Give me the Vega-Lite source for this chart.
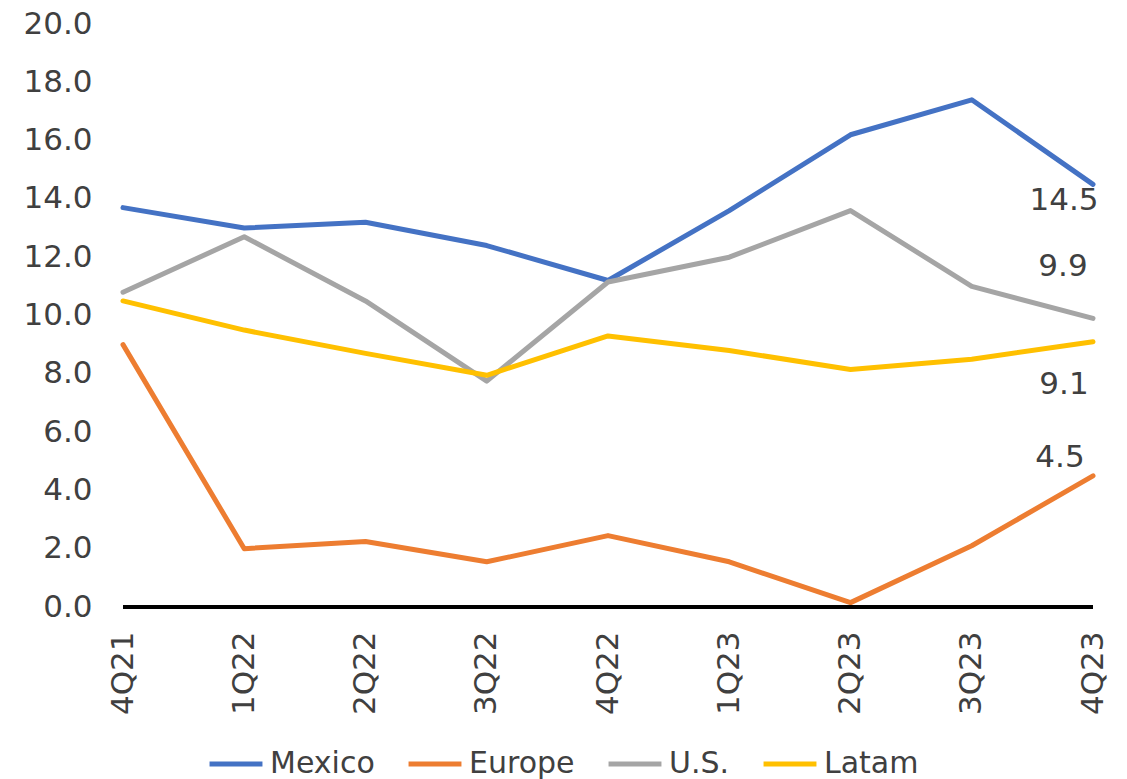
{
  "$schema": "https://vega.github.io/schema/vega-lite/v6.json",
  "width": 970,
  "height": 583,
  "autosize": "none",
  "padding": {"left": 123, "top": 24, "right": 34, "bottom": 172},
  "background": "white",
  "config": {
    "view": {"stroke": null},
    "font": "DejaVu Sans",
    "axis": {"labelFont": "DejaVu Sans", "labelColor": "#404040", "labelFontSize": 31, "grid": false, "domain": false, "ticks": false, "title": null},
    "legend": {"labelFont": "DejaVu Sans", "labelColor": "#404040"}
  },
  "data": {
    "values": [
      {"quarter": "4Q21", "series": "Mexico", "value": 13.7},
      {"quarter": "1Q22", "series": "Mexico", "value": 13.0},
      {"quarter": "2Q22", "series": "Mexico", "value": 13.2},
      {"quarter": "3Q22", "series": "Mexico", "value": 12.4},
      {"quarter": "4Q22", "series": "Mexico", "value": 11.2},
      {"quarter": "1Q23", "series": "Mexico", "value": 13.6},
      {"quarter": "2Q23", "series": "Mexico", "value": 16.2},
      {"quarter": "3Q23", "series": "Mexico", "value": 17.4},
      {"quarter": "4Q23", "series": "Mexico", "value": 14.5},
      {"quarter": "4Q21", "series": "Europe", "value": 9.0},
      {"quarter": "1Q22", "series": "Europe", "value": 2.0},
      {"quarter": "2Q22", "series": "Europe", "value": 2.25},
      {"quarter": "3Q22", "series": "Europe", "value": 1.55},
      {"quarter": "4Q22", "series": "Europe", "value": 2.45},
      {"quarter": "1Q23", "series": "Europe", "value": 1.55},
      {"quarter": "2Q23", "series": "Europe", "value": 0.15},
      {"quarter": "3Q23", "series": "Europe", "value": 2.1},
      {"quarter": "4Q23", "series": "Europe", "value": 4.5},
      {"quarter": "4Q21", "series": "U.S.", "value": 10.8},
      {"quarter": "1Q22", "series": "U.S.", "value": 12.7},
      {"quarter": "2Q22", "series": "U.S.", "value": 10.5},
      {"quarter": "3Q22", "series": "U.S.", "value": 7.75},
      {"quarter": "4Q22", "series": "U.S.", "value": 11.15},
      {"quarter": "1Q23", "series": "U.S.", "value": 12.0},
      {"quarter": "2Q23", "series": "U.S.", "value": 13.6},
      {"quarter": "3Q23", "series": "U.S.", "value": 11.0},
      {"quarter": "4Q23", "series": "U.S.", "value": 9.9},
      {"quarter": "4Q21", "series": "Latam", "value": 10.5},
      {"quarter": "1Q22", "series": "Latam", "value": 9.5},
      {"quarter": "2Q22", "series": "Latam", "value": 8.7},
      {"quarter": "3Q22", "series": "Latam", "value": 7.95},
      {"quarter": "4Q22", "series": "Latam", "value": 9.3},
      {"quarter": "1Q23", "series": "Latam", "value": 8.8},
      {"quarter": "2Q23", "series": "Latam", "value": 8.15},
      {"quarter": "3Q23", "series": "Latam", "value": 8.5},
      {"quarter": "4Q23", "series": "Latam", "value": 9.1}
    ]
  },
  "encoding": {
    "x": {
      "field": "quarter", "type": "ordinal",
      "sort": ["4Q21", "1Q22", "2Q22", "3Q22", "4Q22", "1Q23", "2Q23", "3Q23", "4Q23"],
      "scale": {"type": "point", "padding": 0},
      "axis": {"labelAngle": -90, "labelPadding": 24, "labelFontSize": 31}
    },
    "y": {
      "field": "value", "type": "quantitative",
      "scale": {"domain": [0, 20], "nice": false},
      "axis": {"values": [0, 2, 4, 6, 8, 10, 12, 14, 16, 18, 20], "format": ".1f", "labelPadding": 31}
    }
  },
  "layer": [
    {
      "mark": {"type": "line", "strokeWidth": 5, "strokeCap": "round", "strokeJoin": "round"},
      "encoding": {
        "color": {
          "field": "series", "type": "nominal",
          "scale": {"domain": ["Mexico", "Europe", "U.S.", "Latam"], "range": ["#4472C4", "#ED7D31", "#A5A5A5", "#FFC000"]},
          "legend": {
            "title": null, "orient": "none", "direction": "horizontal", "legendX": 84, "legendY": 711,
            "symbolType": "stroke", "symbolSize": 2800, "symbolStrokeWidth": 5,
            "labelFontSize": 30, "columnPadding": 23, "labelOffset": 5
          }
        }
      }
    },
    {
      "mark": {"type": "rule", "color": "black", "strokeWidth": 2.5},
      "encoding": {"y": {"datum": 0}, "x": null}
    },
    {
      "transform": [{"filter": "datum.series == 'Mexico' && datum.quarter == '4Q23'"}],
      "mark": {"type": "text", "fontSize": 31, "color": "#404040", "align": "center", "baseline": "middle", "dx": -29, "dy": 17},
      "encoding": {"text": {"field": "value", "type": "quantitative", "format": ".1f"}}
    },
    {
      "transform": [{"filter": "datum.series == 'U.S.' && datum.quarter == '4Q23'"}],
      "mark": {"type": "text", "fontSize": 31, "color": "#404040", "align": "center", "baseline": "middle", "dx": -30, "dy": -51},
      "encoding": {"text": {"field": "value", "type": "quantitative", "format": ".1f"}}
    },
    {
      "transform": [{"filter": "datum.series == 'Latam' && datum.quarter == '4Q23'"}],
      "mark": {"type": "text", "fontSize": 31, "color": "#404040", "align": "center", "baseline": "middle", "dx": -29, "dy": 43},
      "encoding": {"text": {"field": "value", "type": "quantitative", "format": ".1f"}}
    },
    {
      "transform": [{"filter": "datum.series == 'Europe' && datum.quarter == '4Q23'"}],
      "mark": {"type": "text", "fontSize": 31, "color": "#404040", "align": "center", "baseline": "middle", "dx": -33, "dy": -18},
      "encoding": {"text": {"field": "value", "type": "quantitative", "format": ".1f"}}
    }
  ]
}
